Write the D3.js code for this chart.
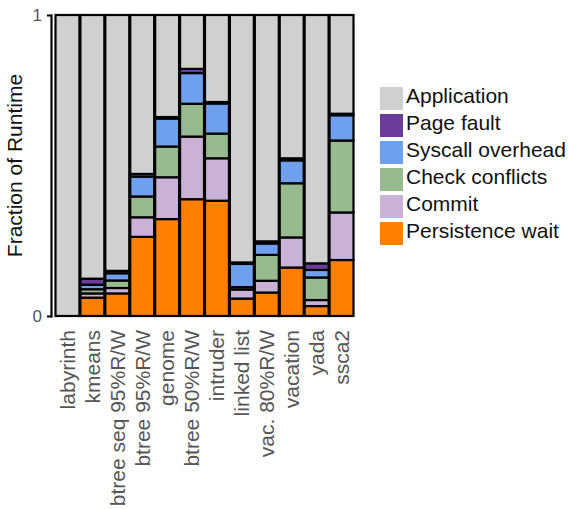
<!DOCTYPE html>
<html>
<head>
<meta charset="utf-8">
<script src="https://cdn.jsdelivr.net/npm/d3@7"></script>
<style>
  body { margin: 0; background: #fff; }
  text { font-family: "Liberation Sans", Arial, sans-serif; }
</style>
</head>
<body>
<div class="container"></div>
<script>
// chart data
const categories = ["labyrinth", "kmeans", "btree seq 95%R/W", "btree 95%R/W", "genome",
  "btree 50%R/W", "intruder", "linked list", "vac. 80%R/W", "vacation", "yada", "ssca2"];
const persistence = [0, 0.061, 0.075, 0.263, 0.322, 0.388, 0.383, 0.058, 0.078, 0.161, 0.033, 0.186];
const commit      = [0, 0.014, 0.018, 0.065, 0.139, 0.208, 0.141, 0.030, 0.039, 0.100, 0.020, 0.158];
const check       = [0, 0.014, 0.025, 0.069, 0.102, 0.109, 0.082, 0.008, 0.086, 0.180, 0.075, 0.239];
const syscall     = [0, 0.015, 0.024, 0.066, 0.093, 0.102, 0.100, 0.077, 0.038, 0.076, 0.025, 0.084];
const pageFault   = [0, 0.020, 0.008, 0.009, 0.005, 0.014, 0.005, 0.005, 0.007, 0.007, 0.022, 0.005];
const application = [1, 0.876, 0.850, 0.528, 0.339, 0.179, 0.289, 0.822, 0.752, 0.476, 0.825, 0.328];
const yTickLabels = ["0", "1"];

// series, bottom to top
const series = [
  { key: "Persistence wait", values: persistence, color: "#ff8000" },
  { key: "Commit", values: commit, color: "#cab2d6" },
  { key: "Check conflicts", values: check, color: "#97bb8f" },
  { key: "Syscall overhead", values: syscall, color: "#6fa0ee" },
  { key: "Page fault", values: pageFault, color: "#6a3d9a" },
  { key: "Application", values: application, color: "#d0d0d0" }
];

const width = 568;
const height = 509;
const margin = { top: 15, left: 54, right: 214, bottom: 193 };

const svg = d3.select(".container")
  .append("svg")
  .attr("width", width)
  .attr("height", height);

// build a table for d3.stack
const table = categories.map((c, i) => {
  const row = { cat: c };
  series.forEach(s => row[s.key] = s.values[i]);
  return row;
});

const stack = d3.stack().keys(series.map(s => s.key));
const stacked = stack(table);

const x = d3.scaleBand()
  .domain(categories)
  .range([margin.left + 1, width - margin.right])
  .paddingInner(0.04)
  .paddingOuter(0.02);

const y = d3.scaleLinear()
  .domain([0, 1])
  .range([height - margin.bottom, margin.top]);

// bars
svg.append("g")
  .selectAll("g")
  .data(stacked)
  .join("g")
  .attr("fill", (d, i) => series[i].color)
  .selectAll("rect")
  .data(d => d.filter(p => p[1] - p[0] > 0))
  .join("rect")
  .attr("x", d => x(d.data.cat))
  .attr("width", x.bandwidth())
  .attr("y", d => y(d[1]))
  .attr("height", d => y(d[0]) - y(d[1]))
  .attr("stroke", "#000")
  .attr("stroke-width", 2.2);

// y axis with minor ticks every 0.1
const yAxis = svg.append("g")
  .attr("transform", `translate(${margin.left - 3},0)`)
  .call(d3.axisLeft(y).ticks(10).tickSize(4).tickFormat(""));
yAxis.select(".domain").attr("stroke-width", 2.2);
yAxis.selectAll(".tick line").attr("stroke-width", 2).attr("x2", 1);

svg.append("g")
  .selectAll("text")
  .data(yTickLabels)
  .join("text")
  .attr("x", margin.left - 12)
  .attr("y", d => y(+d))
  .attr("dy", "0.36em")
  .attr("text-anchor", "end")
  .attr("font-size", 17)
  .attr("fill", "#555")
  .text(d => d);

svg.append("text")
  .attr("transform", `translate(22,${(y(0) + y(1)) / 2}) rotate(-90)`)
  .attr("text-anchor", "middle")
  .attr("font-size", 21)
  .attr("fill", "#111")
  .text("Fraction of Runtime");

// x labels, rotated
svg.append("g")
  .selectAll("text")
  .data(categories)
  .join("text")
  .attr("transform", d => `translate(${x(d) + x.bandwidth() / 2},${height - margin.bottom + 14}) rotate(-90)`)
  .attr("dy", "0.35em")
  .attr("text-anchor", "end")
  .attr("font-size", 21)
  .attr("fill", "#555")
  .text(d => d);

// legend, top entry first
const legend = svg.append("g")
  .attr("transform", "translate(380,87)");
const items = legend.selectAll("g")
  .data(series.slice().reverse())
  .join("g")
  .attr("transform", (d, i) => `translate(0,${i * 27})`);
items.append("rect")
  .attr("width", 23)
  .attr("height", 23)
  .attr("fill", d => d.color);
items.append("text")
  .attr("x", 26)
  .attr("y", 15.5)
  .attr("font-size", 21)
  .attr("fill", "#111")
  .text(d => d.key);
</script>
</body>
</html>
